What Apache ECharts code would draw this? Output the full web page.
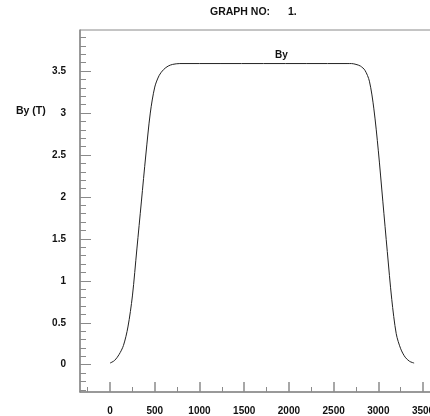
<!DOCTYPE html>
<html>
<head>
<meta charset="utf-8">
<script src="https://cdn.jsdelivr.net/npm/echarts@6/dist/echarts.min.js"></script>
<style>html,body{margin:0;padding:0;background:#fff;}#c{width:430px;height:416px;}</style>
</head>
<body>
<div id="c"></div>
<script>
// Data
var positions = [0, 50, 100, 150, 200, 250, 300, 350, 400, 450, 500, 550, 600, 650, 700, 780,
  2650, 2700, 2750, 2800, 2850, 2900, 2950, 3000, 3050, 3100, 3150, 3200, 3250, 3300, 3350, 3400];
var byValues = [0.02, 0.05, 0.12, 0.23, 0.45, 0.82, 1.38, 1.94, 2.5, 3.0, 3.31, 3.45, 3.52, 3.56, 3.58, 3.59,
  3.59, 3.59, 3.58, 3.56, 3.51, 3.38, 3.05, 2.55, 1.95, 1.35, 0.78, 0.37, 0.19, 0.09, 0.04, 0.02];
var xTickLabels = [0, 500, 1000, 1500, 2000, 2500, 3000, 3500];
var xMinorTicks = [-250, 250, 750, 1250, 1750, 2250, 2750, 3250];
var yTickLabels = [0, 0.5, 1, 1.5, 2, 2.5, 3, 3.5];
var yMinorTicks = [-0.3, -0.2, -0.1, 0, 0.1, 0.2, 0.3, 0.4, 0.5, 0.6, 0.7, 0.8, 0.9, 1, 1.1, 1.2, 1.3, 1.4, 1.5, 1.6, 1.7, 1.8, 1.9, 2, 2.1, 2.2, 2.3, 2.4, 2.5, 2.6, 2.7, 2.8, 2.9, 3, 3.1, 3.2, 3.3, 3.4, 3.5, 3.6, 3.7, 3.8, 3.9];

var seriesData = positions.map(function (p, i) { return [p, byValues[i]]; });

var FONT = '"Liberation Sans", Arial, Helvetica, sans-serif';
var AX = '#8a8a8a';
var labelStyle = { color: '#111', fontFamily: FONT, fontWeight: 'bold', fontSize: 10 };
function plain(v) { return String(v); }

var chart = echarts.init(document.getElementById('c'), null, { renderer: 'canvas' });
chart.setOption({
  animation: false,
  backgroundColor: '#fff',
  grid: { left: 80, top: 30, width: 352, bottom: 24, outerBoundsMode: 'none', containLabel: false,
          show: true, borderColor: AX, borderWidth: 1, backgroundColor: 'transparent' },
  graphic: [
    { type: 'text', left: 210, top: 7, style: { text: 'GRAPH NO:', font: 'bold 10.5px ' + FONT, fill: '#111' } },
    { type: 'text', left: 288, top: 7, style: { text: '1.', font: 'bold 10.5px ' + FONT, fill: '#111' } },
    { type: 'text', left: 16, top: 106, style: { text: 'By (T)', font: 'bold 10.5px ' + FONT, fill: '#111' } },
    { type: 'text', left: 275, top: 50, style: { text: 'By', font: 'bold 10px ' + FONT, fill: '#111' } }
  ],
  xAxis: [
    {
      type: 'value', min: -336, max: 3600, position: 'bottom',
      axisLine: { show: true, onZero: false, lineStyle: { color: AX, width: 1.5 } },
      axisTick: { show: true, inside: true, length: 10, customValues: xTickLabels, lineStyle: { color: AX, width: 1.5 } },
      axisLabel: { show: true, margin: 14, customValues: xTickLabels, formatter: plain, hideOverlap: false, ...labelStyle },
      splitLine: { show: false }
    },
    {
      type: 'value', min: -336, max: 3600, position: 'bottom',
      axisLine: { show: false, onZero: false },
      axisTick: { show: true, inside: true, length: 5, customValues: xMinorTicks, lineStyle: { color: AX, width: 1 } },
      axisLabel: { show: false },
      splitLine: { show: false }
    }
  ],
  yAxis: [
    {
      type: 'value', min: -0.325, max: 3.99, position: 'left',
      axisLine: { show: true, onZero: false, lineStyle: { color: AX, width: 1.5 } },
      axisTick: { show: true, inside: true, length: 11, customValues: yTickLabels, lineStyle: { color: AX, width: 1 } },
      axisLabel: { show: true, margin: 14, customValues: yTickLabels, formatter: plain, ...labelStyle },
      splitLine: { show: false }
    },
    {
      type: 'value', min: -0.325, max: 3.99, position: 'left',
      axisLine: { show: false, onZero: false },
      axisTick: { show: true, inside: true, length: 6, customValues: yMinorTicks, lineStyle: { color: AX, width: 1 } },
      axisLabel: { show: false },
      splitLine: { show: false }
    }
  ],
  series: [{
    type: 'line', name: 'By', data: seriesData, xAxisIndex: 0, yAxisIndex: 0,
    showSymbol: false, smooth: 0.3, lineStyle: { color: '#222', width: 1 }
  }]
});
</script>
</body>
</html>
